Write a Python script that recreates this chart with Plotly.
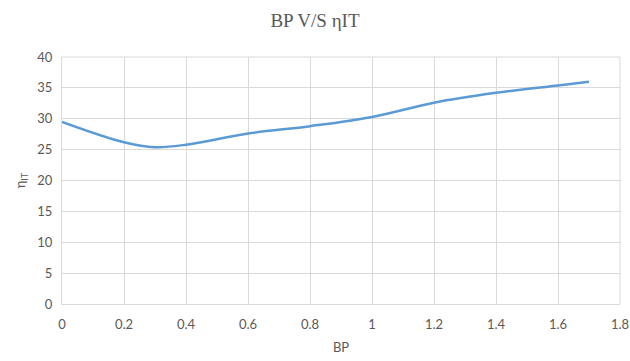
import plotly.graph_objects as go

bp = [0, 0.2, 0.3, 0.4, 0.6, 0.8, 1.0, 1.2, 1.4, 1.6, 1.7]
eta_it = [29.5, 26.2, 25.4, 25.8, 27.6, 28.8, 30.3, 32.6, 34.2, 35.4, 36.0]

x_ticks = [0, 0.2, 0.4, 0.6, 0.8, 1, 1.2, 1.4, 1.6, 1.8]
x_labels = ["0", "0.2", "0.4", "0.6", "0.8", "1", "1.2", "1.4", "1.6", "1.8"]
y_ticks = [0, 5, 10, 15, 20, 25, 30, 35, 40]

fig = go.Figure()
fig.add_trace(go.Scatter(
    x=bp, y=eta_it, mode="lines",
    line=dict(color="#5B9BD5", width=2.5, shape="spline", smoothing=1.0),
    showlegend=False, hoverinfo="skip",
))

axis_font = dict(family="Lato, Open Sans, sans-serif", size=13, color="#595959")
fig.update_layout(
    width=630, height=361,
    margin=dict(l=62, r=10, t=57, b=57),
    paper_bgcolor="white", plot_bgcolor="white",
    title=dict(text="BP V/S ηIT", x=0.5, xanchor="center", y=0.945, yanchor="middle",
               font=dict(family="Liberation Serif, DejaVu Serif, serif", size=19, color="#595959")),
    xaxis=dict(range=[0, 1.8], tickvals=x_ticks, ticktext=x_labels, automargin=False,
               showgrid=True, gridcolor="#D9D9D9", gridwidth=1,
               zeroline=False, showline=True, linecolor="#D9D9D9", linewidth=1,
               ticks="", tickfont=axis_font, ticklabelstandoff=8,
               title=dict(text="BP", font=axis_font, standoff=12)),
    yaxis=dict(range=[0, 40], tickvals=y_ticks, automargin=False,
               showgrid=True, gridcolor="#D9D9D9", gridwidth=1,
               zeroline=False, showline=True, linecolor="#D9D9D9", linewidth=1,
               ticks="", tickfont=axis_font, ticklabelstandoff=6,
               title=dict(text="η<sub>IT</sub>", font=axis_font, standoff=8)),
)
fig.add_shape(type="line", xref="paper", yref="paper", x0=1, x1=1, y0=0, y1=1,
              line=dict(color="#D9D9D9", width=1))
fig.add_shape(type="line", xref="paper", yref="paper", x0=0, x1=1, y0=1, y1=1,
              line=dict(color="#D9D9D9", width=1))

fig.write_html("out.html")
